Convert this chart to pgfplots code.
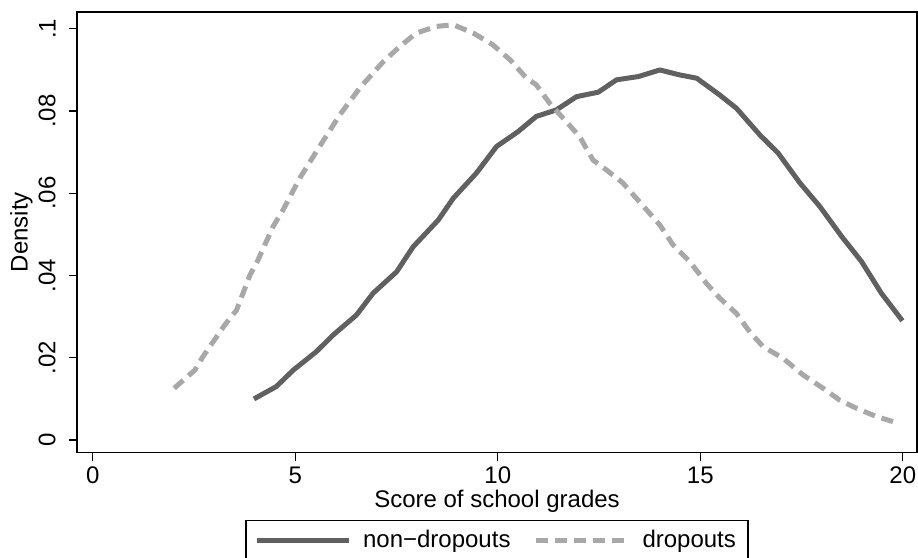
\documentclass[border=0pt]{standalone}
\usepackage{fontspec}
\setmainfont{Liberation Sans}
\usepackage{pgfplots}
\pgfplotsset{compat=1.18}
\definecolor{solidgray}{RGB}{96,96,96}
\definecolor{dashgray}{RGB}{168,168,168}
\begin{document}
\begin{tikzpicture}
\begin{axis}[
  name=main,
  width=420pt, height=220.25pt, scale only axis,
  xmin=-0.39, xmax=20.35, ymin=-0.00304, ymax=0.1041,
  axis line style={line width=0.6pt, black},
  xtick={0,5,10,15,20},
  ytick={0,0.02,0.04,0.06,0.08,0.1},
  yticklabels={0,.02,.04,.06,.08,.1},
  tick align=outside, tick pos=left, major tick length=4pt,
  tick style={black, line width=0.6pt},
  /pgf/number format/assume math mode=true,
  ticklabel style={font=\fontsize{12}{14}\selectfont},
  yticklabel style={rotate=90, anchor=south, inner sep=0pt, inner ysep=6.5pt},
  xticklabel style={anchor=north, inner sep=0pt, inner ysep=3pt},
  xlabel={Score of school grades}, ylabel={Density},
  label style={font=\fontsize{12}{14}\selectfont, inner sep=0pt},
  xlabel style={at={(axis description cs:0.5,-0.0851)}, anchor=north},
  ylabel style={at={(axis description cs:-0.0524,0.5)}, anchor=south},
  legend columns=2,
  legend style={
    at={(0.5,-0.153)}, anchor=north,
    draw=black, line width=0.6pt,
    font=\fontsize{12}{14}\selectfont,
    inner xsep=4pt, inner ysep=3pt,
    /tikz/every even column/.append style={column sep=9.5pt},
    /tikz/every odd column/.append style={column sep=4pt},
  },
  legend image code/.code={\draw[#1] (0pt,0pt) -- (46pt,0pt);},
]
\addplot[solidgray, line width=2.5pt, line join=round] coordinates {
(3.98,0.0100) (4.53,0.0130) (4.95,0.0170) (5.52,0.0215) (5.93,0.0255)
(6.51,0.0304) (6.92,0.0357) (7.50,0.0409) (7.91,0.0470) (8.53,0.0535)
(8.90,0.0588) (9.47,0.0649) (9.97,0.0714) (10.50,0.0750) (10.95,0.0787)
(11.45,0.0803) (11.94,0.0835) (12.48,0.0846) (12.93,0.0876) (13.47,0.0884)
(14.00,0.0900) (14.49,0.0888) (14.91,0.0880) (15.48,0.0839) (15.89,0.0807)
(16.47,0.0742) (16.92,0.0698) (17.46,0.0625) (17.95,0.0568) (18.49,0.0495)
(18.98,0.0434) (19.47,0.0357) (19.99,0.0290)
};
\addlegendentry{non−dropouts}
\addplot[dashgray, line width=2.5pt, dash pattern=on 6pt off 3.5pt] coordinates {
(2.01,0.0126) (2.52,0.0170) (2.72,0.0203) (3.26,0.0280) (3.55,0.0316)
(3.88,0.0401) (4.08,0.0438) (4.45,0.0519) (4.70,0.0560) (5.11,0.0637)
(5.60,0.0714) (6.10,0.0791) (6.59,0.0856) (7.17,0.0920) (7.58,0.0957)
(7.99,0.0990) (8.49,0.1006) (8.90,0.1010) (9.39,0.0990) (9.88,0.0961)
(10.30,0.0925) (10.71,0.0880) (10.95,0.0864) (11.28,0.0819) (11.61,0.0783)
(12.02,0.0738) (12.35,0.0681) (12.68,0.0657) (13.09,0.0625) (13.67,0.0560)
(14.00,0.0523) (14.33,0.0474) (14.74,0.0434) (15.15,0.0381) (15.48,0.0345)
(15.89,0.0308) (16.22,0.0263) (16.55,0.0227) (17.04,0.0199) (17.54,0.0158)
(18.03,0.0126) (18.44,0.0097) (18.86,0.0077) (19.35,0.0057) (19.88,0.0041)
};
\addlegendentry{dropouts}
\end{axis}
\pgfresetboundingbox
\path[use as bounding box] ([xshift=-38.5pt,yshift=6pt]main.north west) rectangle ([xshift=0.5pt,yshift=-52.25pt]main.south east);
\end{tikzpicture}
\end{document}
